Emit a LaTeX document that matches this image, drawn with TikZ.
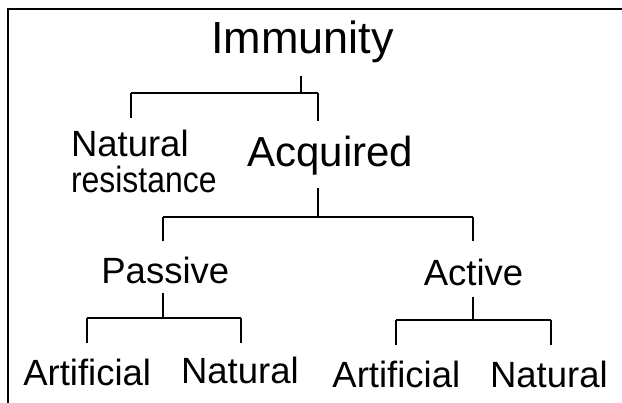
\documentclass[tikz,border=0pt]{standalone}
\usepackage{fontspec}
\setmainfont{Liberation Sans}
\begin{document}
\begin{tikzpicture}[x=1pt,y=-1pt,
  lbl/.style={inner sep=0pt, outer sep=0pt, anchor=base, font=\fontsize{36.5}{36.5}\selectfont},
  barln/.style={line width=1.8pt},
  dropln/.style={line width=1.2pt}]
\useasboundingbox (0,0) rectangle (622,403);
% frame
\draw[line width=2pt] (8,430) -- (8,9) -- (650,9);
% labels
\node[lbl, font=\fontsize{45}{45}\selectfont] (imm) at (302.3,53.5) {Immunity};
\node[lbl, anchor=base west] (nr1) at (71,157) {Natural};
\node[lbl, anchor=base west] (nr2) at (71,193) {\scalebox{0.875}[1]{resistance}};
\node[lbl, font=\fontsize{42}{42}\selectfont] (acq) at (330.5,167) {Acquired};
\node[lbl] (pas) at (165.3,284) {Passive};
\node[lbl] (act) at (473.5,286) {Active};
\node[lbl] (art1) at (87.2,385.7) {Artificial};
\node[lbl] (nat1) at (239.9,384) {Natural};
\node[lbl] (art2) at (396.3,388) {Artificial};
\node[lbl] (nat2) at (548.9,388) {Natural};
% bracket: Immunity
\coordinate (immS) at (301,76);
\coordinate (immB) at (301,93);
\coordinate (nrT) at (131,118);
\coordinate (acqT) at (318,121);
\draw[dropln] (immS) -- (immB);
\draw[barln] (nrT |- immB) -- (acqT |- immB);
\draw[dropln] (nrT |- immB) -- (nrT);
\draw[dropln] (acqT |- immB) -- (acqT);
% bracket: Acquired
\coordinate (acqS) at (318,188);
\coordinate (acqB) at (318,217);
\coordinate (pasT) at (163,241);
\coordinate (actT) at (473,241);
\draw[dropln] (acqS) -- (acqB);
\draw[barln] (pasT |- acqB) -- (actT |- acqB);
\draw[dropln] (pasT |- acqB) -- (pasT);
\draw[barln] (actT |- acqB) -- (actT);
% bracket: Passive
\coordinate (pasS) at (163,293);
\coordinate (pasB) at (163,318);
\coordinate (art1T) at (87,343);
\coordinate (nat1T) at (241,343);
\draw[dropln] (pasS) -- (pasB);
\draw[barln] (art1T |- pasB) -- (nat1T |- pasB);
\draw[dropln] (art1T |- pasB) -- (art1T);
\draw[dropln] (nat1T |- pasB) -- (nat1T);
% bracket: Active
\coordinate (actS) at (473,297);
\coordinate (actB) at (473,320);
\coordinate (art2T) at (396,345);
\coordinate (nat2T) at (551,345);
\draw[barln] (actS) -- (actB);
\draw[barln] (art2T |- actB) -- (nat2T |- actB);
\draw[barln] (art2T |- actB) -- (art2T);
\draw[barln] (nat2T |- actB) -- (nat2T);
\end{tikzpicture}
\end{document}
